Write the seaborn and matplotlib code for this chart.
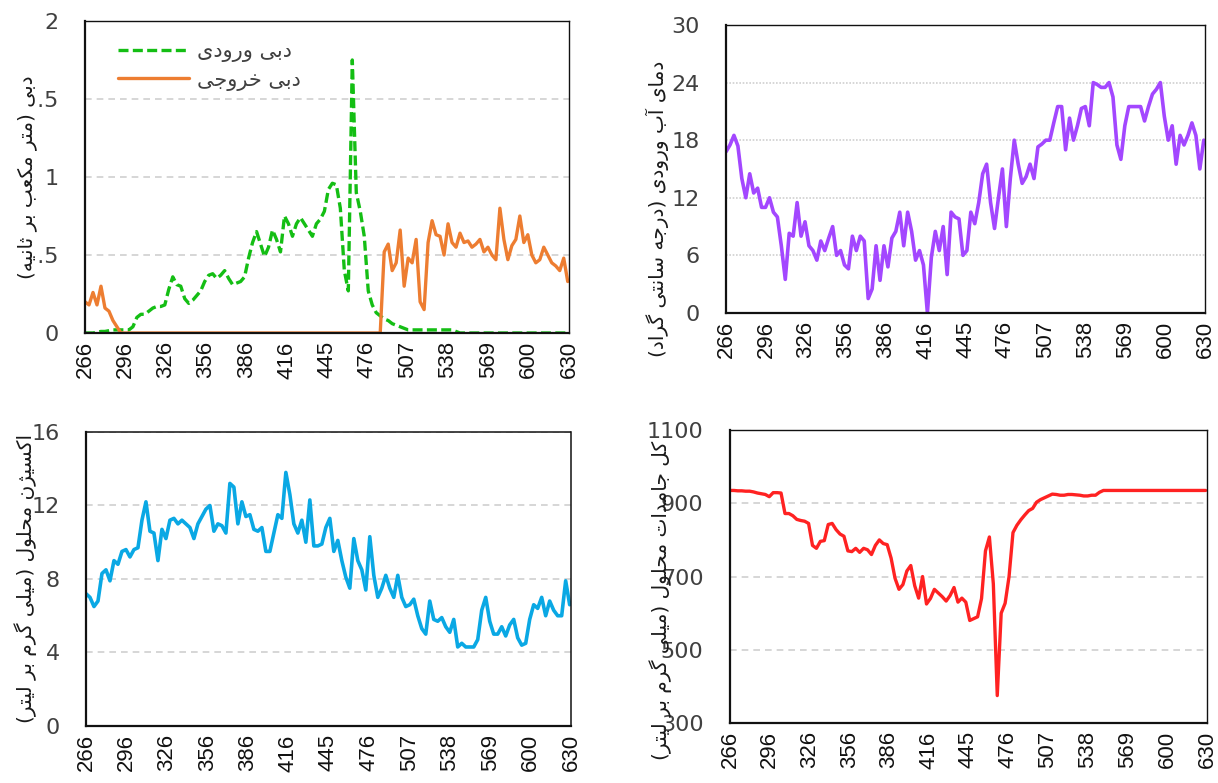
import numpy as np
import pandas as pd
import matplotlib
matplotlib.use("Agg")
import matplotlib.pyplot as plt
import seaborn as sns

# ---- data (every 3rd sample of 365) ----
day_labels = ["266", "296", "326", "356", "386", "416", "445",
              "476", "507", "538", "569", "600", "630"]
sample_idx = np.arange(0, 365, 3)

inflow = [0.0, 0.0, 0.0, 0.005, 0.01, 0.01, 0.015, 0.02, 0.02, 0.02,
          0.02, 0.02, 0.04, 0.10, 0.12, 0.12, 0.14, 0.16, 0.17, 0.17,
          0.18, 0.28, 0.36, 0.31, 0.30, 0.22, 0.19, 0.21, 0.24, 0.27,
          0.33, 0.37, 0.38, 0.35, 0.37, 0.40, 0.35, 0.31, 0.32, 0.33,
          0.36, 0.48, 0.58, 0.65, 0.57, 0.49, 0.55, 0.66, 0.60, 0.52,
          0.75, 0.70, 0.62, 0.70, 0.74, 0.70, 0.66, 0.62, 0.70, 0.73,
          0.78, 0.92, 0.96, 0.95, 0.80, 0.40, 0.27, 1.75, 0.90, 0.78,
          0.62, 0.27, 0.18, 0.13, 0.11, 0.09, 0.08, 0.06, 0.05, 0.04,
          0.03, 0.02, 0.02, 0.02, 0.02, 0.02, 0.02, 0.02, 0.02, 0.02,
          0.02, 0.02, 0.02, 0.01, 0.0, 0.0, 0.0, 0.0, 0.0, 0.0,
          0.0, 0.0, 0.0, 0.0, 0.0, 0.0, 0.0, 0.0, 0.0, 0.0,
          0.0, 0.0, 0.0, 0.0, 0.0, 0.0, 0.0, 0.0, 0.0, 0.0,
          0.0, 0.0]

outflow = [0.20, 0.18, 0.26, 0.18, 0.30, 0.16, 0.14, 0.08, 0.04, 0.0,
           0.0, 0.0, 0.0, 0.0, 0.0, 0.0, 0.0, 0.0, 0.0, 0.0,
           0.0, 0.0, 0.0, 0.0, 0.0, 0.0, 0.0, 0.0, 0.0, 0.0,
           0.0, 0.0, 0.0, 0.0, 0.0, 0.0, 0.0, 0.0, 0.0, 0.0,
           0.0, 0.0, 0.0, 0.0, 0.0, 0.0, 0.0, 0.0, 0.0, 0.0,
           0.0, 0.0, 0.0, 0.0, 0.0, 0.0, 0.0, 0.0, 0.0, 0.0,
           0.0, 0.0, 0.0, 0.0, 0.0, 0.0, 0.0, 0.0, 0.0, 0.0,
           0.0, 0.0, 0.0, 0.0, 0.0, 0.52, 0.57, 0.40, 0.45, 0.66,
           0.30, 0.48, 0.45, 0.60, 0.20, 0.15, 0.58, 0.72, 0.63, 0.62,
           0.50, 0.70, 0.58, 0.55, 0.64, 0.58, 0.59, 0.55, 0.57, 0.60,
           0.52, 0.55, 0.50, 0.47, 0.80, 0.60, 0.47, 0.56, 0.60, 0.75,
           0.58, 0.63, 0.50, 0.45, 0.47, 0.55, 0.50, 0.45, 0.43, 0.40,
           0.48, 0.33]

temp = [16.8, 17.5, 18.5, 17.4, 14.0, 12.0, 14.5, 12.5, 13.0, 11.0,
        11.0, 12.0, 10.5, 10.0, 7.0, 3.5, 8.3, 8.0, 11.5, 8.0,
        9.5, 7.0, 6.5, 5.5, 7.5, 6.5, 7.8, 9.0, 6.0, 6.5,
        5.0, 4.6, 8.0, 6.5, 8.0, 7.5, 1.5, 2.5, 7.0, 3.4,
        7.0, 4.8, 7.8, 8.5, 10.5, 7.0, 10.5, 8.5, 5.5, 6.5,
        5.0, 0.0, 5.8, 8.5, 6.5, 9.0, 4.0, 10.5, 10.0, 9.8,
        6.0, 6.5, 10.5, 9.3, 11.5, 14.5, 15.5, 11.5, 8.8, 12.0,
        15.0, 9.0, 14.0, 18.0, 15.5, 13.5, 14.2, 15.5, 14.0, 17.3,
        17.6, 18.0, 18.0, 19.8, 21.5, 21.5, 17.0, 20.3, 18.0, 19.5,
        21.3, 21.5, 19.5, 24.0, 23.8, 23.5, 23.5, 24.0, 22.5, 17.5,
        16.0, 19.5, 21.5, 21.5, 21.5, 21.5, 20.0, 21.5, 22.8, 23.3,
        24.0, 20.5, 18.0, 19.5, 15.5, 18.5, 17.5, 18.5, 19.8, 18.5,
        15.0, 18.0]

oxygen = [7.2, 7.0, 6.5, 6.8, 8.3, 8.5, 7.9, 9.0, 8.8, 9.5,
          9.6, 9.2, 9.6, 9.7, 11.2, 12.2, 10.6, 10.5, 9.0, 10.7,
          10.2, 11.2, 11.3, 11.0, 11.2, 11.0, 10.8, 10.2, 11.0, 11.4,
          11.8, 12.0, 10.6, 11.0, 10.9, 10.5, 13.2, 13.0, 11.0, 12.2,
          11.4, 11.5, 10.7, 10.6, 10.8, 9.5, 9.5, 10.5, 11.5, 11.3,
          13.8, 12.6, 11.0, 10.5, 11.2, 10.0, 12.3, 9.8, 9.8, 9.9,
          10.8, 11.3, 9.5, 10.1, 9.0, 8.1, 7.5, 10.2, 9.0, 8.5,
          7.4, 10.3, 8.2, 7.0, 7.5, 8.2, 7.5, 7.0, 8.2, 7.0,
          6.5, 6.6, 6.9, 6.0, 5.3, 5.0, 6.8, 5.8, 5.7, 5.9,
          5.4, 5.1, 5.8, 4.3, 4.5, 4.3, 4.3, 4.3, 4.7, 6.3,
          7.0, 5.7, 5.0, 5.0, 5.4, 4.9, 5.5, 5.8, 4.8, 4.4,
          4.5, 5.8, 6.6, 6.4, 7.0, 6.0, 6.8, 6.3, 6.0, 6.0,
          7.9, 6.6]

tds = [935, 935, 934, 934, 933, 933, 931, 928, 926, 924,
       918, 929, 929, 928, 872, 872, 866, 856, 853, 851,
       845, 785, 777, 796, 798, 842, 845, 828, 816, 810,
       770, 768, 777, 766, 777, 773, 760, 785, 800, 790,
       787, 750, 695, 665, 678, 715, 730, 675, 641, 700,
       625, 640, 665, 655, 645, 633, 648, 670, 630, 641,
       630, 580, 585, 590, 640, 770, 808, 680, 375, 600,
       627, 700, 820, 840, 855, 868, 880, 886, 903, 910,
       915, 920, 925, 924, 922, 922, 924, 924, 923, 922,
       920, 920, 922, 922, 930, 935, 935, 935, 935, 935,
       935, 935, 935, 935, 935, 935, 935, 935, 935, 935,
       935, 935, 935, 935, 935, 935, 935, 935, 935, 935,
       935, 935]

# ---- minimal Persian shaping (matplotlib has no RTL layout) ----
FORMS = {
    'ا': ('\uFE8D', '\uFE8E', None, None),
    'آ': ('\uFE81', '\uFE82', None, None),
    'ب': ('\uFE8F', '\uFE90', '\uFE91', '\uFE92'),
    'ت': ('\uFE95', '\uFE96', '\uFE97', '\uFE98'),
    'ث': ('\uFE99', '\uFE9A', '\uFE9B', '\uFE9C'),
    'ج': ('\uFE9D', '\uFE9E', '\uFE9F', '\uFEA0'),
    'ح': ('\uFEA1', '\uFEA2', '\uFEA3', '\uFEA4'),
    'خ': ('\uFEA5', '\uFEA6', '\uFEA7', '\uFEA8'),
    'د': ('\uFEA9', '\uFEAA', None, None),
    'ر': ('\uFEAD', '\uFEAE', None, None),
    'ژ': ('\uFB8A', '\uFB8B', None, None),
    'س': ('\uFEB1', '\uFEB2', '\uFEB3', '\uFEB4'),
    'ع': ('\uFEC9', '\uFECA', '\uFECB', '\uFECC'),
    'ک': ('\uFB8E', '\uFB8F', '\uFB90', '\uFB91'),
    'گ': ('\uFB92', '\uFB93', '\uFB94', '\uFB95'),
    'ل': ('\uFEDD', '\uFEDE', '\uFEDF', '\uFEE0'),
    'م': ('\uFEE1', '\uFEE2', '\uFEE3', '\uFEE4'),
    'ن': ('\uFEE5', '\uFEE6', '\uFEE7', '\uFEE8'),
    'ه': ('\uFEE9', '\uFEEA', '\uFEEB', '\uFEEC'),
    'و': ('\uFEED', '\uFEEE', None, None),
    'ی': ('\uFBFC', '\uFBFD', '\uFBFE', '\uFBFF'),
}
MIRROR = {'(': ')', ')': '('}


def fa(text):
    out = []
    for i, c in enumerate(text):
        if c not in FORMS:
            out.append(MIRROR.get(c, c))
            continue
        prev = text[i - 1] if i > 0 else ''
        nxt = text[i + 1] if i + 1 < len(text) else ''
        jp = prev in FORMS and FORMS[prev][2] is not None
        jn = FORMS[c][2] is not None and nxt in FORMS
        iso, fin, ini, med = FORMS[c]
        if jp and jn:
            out.append(med)
        elif jp:
            out.append(fin)
        elif jn:
            out.append(ini)
        else:
            out.append(iso)
    return ''.join(out[::-1])


sns.set_style("white")
plt.rcParams['font.family'] = ['DejaVu Sans']

fig = plt.figure(figsize=(12.18, 7.83), dpi=100)
ax1 = fig.add_axes([0.0698, 0.5747, 0.3974, 0.3985])
ax2 = fig.add_axes([0.5961, 0.6003, 0.3933, 0.3678])
ax3 = fig.add_axes([0.0706, 0.0728, 0.3982, 0.3755])
ax4 = fig.add_axes([0.5993, 0.0766, 0.3916, 0.3742])


def style(ax, ylim, yticks, ylabels, label, lab_x, lab_y, dotted=False,
          grid_ls=(0, (4, 3)), label_bg=False):
    ax.set_xlim(0, 364)
    ax.set_ylim(*ylim)
    ax.set_yticks(yticks)
    ax.set_yticklabels(ylabels)
    ax.set_xticks(np.linspace(0, 364, 13))
    ax.set_xticklabels(day_labels, rotation=90, fontsize=16, family='Liberation Sans')
    ax.set_xticks(np.arange(0, 364, 50), minor=True)
    ax.tick_params(axis='x', which='major', length=0, pad=6, colors='#111111')
    ax.tick_params(axis='x', which='minor', direction='in', length=7, width=1.4, color='black')
    ax.tick_params(axis='y', direction='in', length=6, width=1.2, color='black',
                   pad=19, labelsize=16, labelcolor='#404040')
    ax.set_xlabel('')
    lab = ax.set_ylabel(fa(label), fontsize=14.5, color='#1a1a1a', rotation=90)
    if label_bg:
        lab.set_bbox(dict(facecolor='white', edgecolor='none', pad=0))
        lab.set_zorder(5)
    ax.yaxis.set_label_coords(lab_x, lab_y)
    ax.yaxis.grid(True, color='#d0d0d0', linestyle=grid_ls, linewidth=1.2)
    ax.xaxis.grid(False)
    for s in ['left', 'bottom']:
        ax.spines[s].set_linewidth(1.6)
        ax.spines[s].set_color('#111111')
    for s in ['top', 'right']:
        ax.spines[s].set_color('#111111')
        if dotted:
            ax.spines[s].set_linestyle((0, (1, 1)))
            ax.spines[s].set_linewidth(1.1)
        else:
            ax.spines[s].set_linewidth(1.0)


# panel 1: inflow / outflow
sns.lineplot(x=sample_idx, y=inflow, ax=ax1, color='#14BE14', linewidth=2.4,
             linestyle=(0, (3, 1.3)), label=fa('دبی ورودی'), estimator=None)
sns.lineplot(x=sample_idx, y=outflow, ax=ax1, color='#ED7D31', linewidth=2.4,
             label=fa('دبی خروجی'), estimator=None)
style(ax1, (0, 2), [0, 0.5, 1, 1.5, 2], ['0', '0.5', '1', '1.5', '2'],
      'دبی (متر مکعب بر ثانیه)', -0.1, 0.5, label_bg=True)
ax1.legend(loc='upper left', bbox_to_anchor=(0.03, 0.995), frameon=False,
           handlelength=3.4, handletextpad=0.4, fontsize=15, labelcolor='#404040',
           labelspacing=0.35)

# panel 2: inflow water temperature
sns.lineplot(x=sample_idx, y=temp, ax=ax2, color='#A347FF', linewidth=2.6, estimator=None)
style(ax2, (0, 30), [0, 6, 12, 18, 24, 30], ['0', '6', '12', '18', '24', '30'],
      'دمای آب ورودی (درجه سانتی گراد)', -0.12, 0.36, grid_ls=(0, (1, 1)))

# panel 3: dissolved oxygen
sns.lineplot(x=sample_idx, y=oxygen, ax=ax3, color='#0AA8E4', linewidth=2.6, estimator=None)
style(ax3, (0, 16), [0, 4, 8, 12, 16], ['0', '4', '8', '12', '16'],
      'اکسیژن محلول (میلی گرم بر لیتر)', -0.1, 0.5, dotted=True)

# panel 4: total dissolved solids
sns.lineplot(x=sample_idx, y=tds, ax=ax4, color='#FF2222', linewidth=2.4, estimator=None)
style(ax4, (300, 1100), [300, 500, 700, 900, 1100], ['300', '500', '700', '900', '1100'],
      'کل جامدات محلول (میلی گرم بر لیتر)', -0.122, 0.42)

fig.savefig('out.png', dpi=100)
